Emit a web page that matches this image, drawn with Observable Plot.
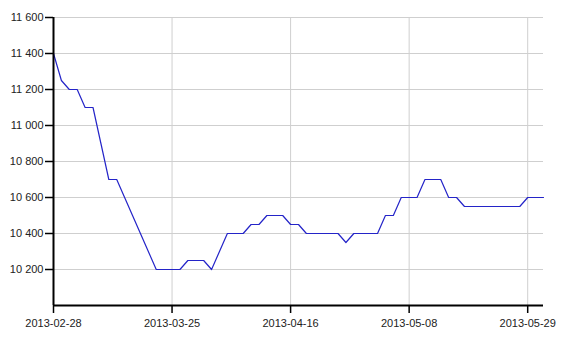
<!DOCTYPE html>
<html>
<head>
<meta charset="utf-8">
<script src="https://cdn.jsdelivr.net/npm/d3@7"></script>
<script src="https://cdn.jsdelivr.net/npm/@observablehq/plot@0.6"></script>
<style>
  html, body { margin: 0; padding: 0; background: #fff; }
</style>
</head>
<body>
<div id="chart"></div>
<script>
// Trading-day index (equally spaced points) and price values
const prices = [
  11400, 11250, 11200, 11200, 11100, 11100, 10900, 10700, 10700, 10600,
  10500, 10400, 10300, 10200, 10200, 10200, 10200, 10250, 10250, 10250,
  10200, 10300, 10400, 10400, 10400, 10450, 10450, 10500, 10500, 10500,
  10450, 10450, 10400, 10400, 10400, 10400, 10400, 10350, 10400, 10400,
  10400, 10400, 10500, 10500, 10600, 10600, 10600, 10700, 10700, 10700,
  10600, 10600, 10550, 10550, 10550, 10550, 10550, 10550, 10550, 10550,
  10600, 10600, 10600
];
const xTickIndex = [0, 15, 30, 45, 60];
const xTickLabels = ["2013-02-28", "2013-03-25", "2013-04-16", "2013-05-08", "2013-05-29"];
const yTicks = [10200, 10400, 10600, 10800, 11000, 11200, 11400, 11600];

const data = prices.map((v, i) => ({i, v}));
const fmt = d3.formatLocale({decimal: ".", thousands: " ", grouping: [3], currency: ["", ""]}).format(",");

const chart = Plot.plot({
  width: 574,
  height: 338,
  marginLeft: 53,
  marginRight: 31,
  marginTop: 17,
  marginBottom: 33,
  style: {fontFamily: "Liberation Sans, Arial, sans-serif", fontSize: "11px", color: "#222", background: "#fff"},
  x: {domain: [0, prices.length - 1]},
  y: {domain: [10000, 11600]},
  marks: [
    Plot.gridY(yTicks, {stroke: "#cfcfcf", strokeOpacity: 1}),
    Plot.gridX(xTickIndex, {stroke: "#cfcfcf", strokeOpacity: 1}),
    Plot.axisY(yTicks, {tickFormat: fmt, tickSize: 8, tickPadding: 2, label: null, stroke: "#000", strokeWidth: 1.5, fill: "#222"}),
    Plot.axisX(xTickIndex, {tickFormat: (d) => xTickLabels[xTickIndex.indexOf(d)], tickSize: 8, tickPadding: 6, label: null, stroke: "#000", strokeWidth: 1.5, fill: "#222"}),
    Plot.line(data, {x: "i", y: "v", stroke: "#2424c8", strokeWidth: 1.2}),
    Plot.ruleX([0], {stroke: "#000", strokeWidth: 2}),
    Plot.ruleY([10000], {stroke: "#000", strokeWidth: 2})
  ]
});
document.getElementById("chart").appendChild(chart);
</script>
</body>
</html>
